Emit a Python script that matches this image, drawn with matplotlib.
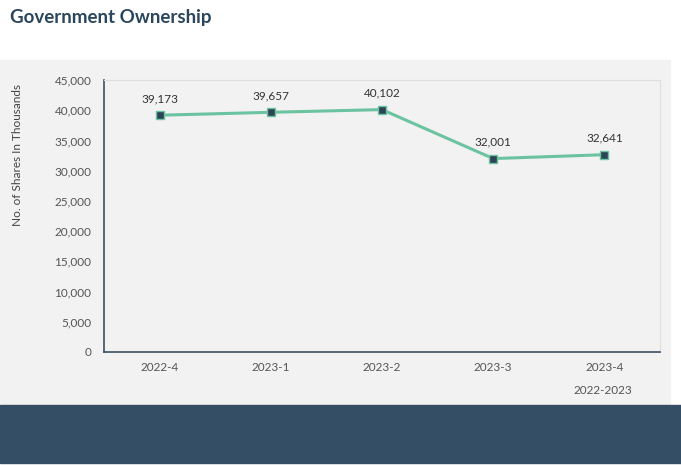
import matplotlib.pyplot as plt
from matplotlib.patches import Rectangle

# données
quarters = ["2022-4", "2023-1", "2023-2", "2023-3", "2023-4"]
shares = [39173, 39657, 40102, 32001, 32641]
yticks = [0, 5000, 10000, 15000, 20000, 25000, 30000, 35000, 40000, 45000]

plt.rcParams["font.family"] = ["Lato", "DejaVu Sans"]

fig = plt.figure(figsize=(6.81, 4.65), dpi=100)
fig.patch.set_facecolor("white")

# fond gris et bandeau sombre
fig.patches.append(Rectangle((0, 1 - 405 / 465), 670 / 681, (405 - 60) / 465,
                             transform=fig.transFigure, color="#f2f2f2", zorder=-2))
fig.patches.append(Rectangle((0, 1 - 463 / 465), 1, 58 / 465,
                             transform=fig.transFigure, color="#344f65", zorder=-2))

fig.text(10 / 681, 1 - 18 / 465, "Government Ownership", fontsize=13.5, fontweight="bold",
         color="#2b465c", va="center", ha="left")

ax = fig.add_axes([104 / 681, 1 - 352 / 465, 556 / 681, 272 / 465])
ax.set_zorder(2)
ax.set_facecolor("#f2f2f2")

x = range(len(quarters))
ax.plot(x, shares, color="#6cc3a0", lw=2.2, marker="s", markersize=5.5,
        markerfacecolor="#2d4457", markeredgecolor="#6cc3a0", markeredgewidth=1)

for xi, v in zip(x, shares):
    ax.annotate(f"{v:,}", (xi, v), xytext=(0, 8), textcoords="offset points",
                ha="center", va="bottom", fontsize=8.5, color="#333333")

ax.set_xlim(-0.5, len(quarters) - 0.5)
ax.set_ylim(0, 45000)
ax.set_xticks(list(x))
ax.set_xticklabels(quarters)
ax.set_yticks(yticks)
ax.set_yticklabels([f"{t:,}" for t in yticks])
ax.tick_params(length=0, labelsize=8.5, colors="#555555")
ax.tick_params(axis="x", pad=7)
ax.tick_params(axis="y", pad=9)

for s in ["left", "bottom"]:
    ax.spines[s].set_color("#3d4f5f")
    ax.spines[s].set_linewidth(1.2)
for s in ["top", "right"]:
    ax.spines[s].set_color("#dedede")
    ax.spines[s].set_linewidth(0.8)

fig.text(18 / 681, 1 - 155 / 465, "No. of Shares In Thousands", rotation=90,
         fontsize=8.5, color="#444444", ha="center", va="center")
fig.text(603 / 681, 1 - 391 / 465, "2022-2023", fontsize=8.5, color="#555555",
         ha="center", va="center")

fig.savefig("out.png", dpi=100)
